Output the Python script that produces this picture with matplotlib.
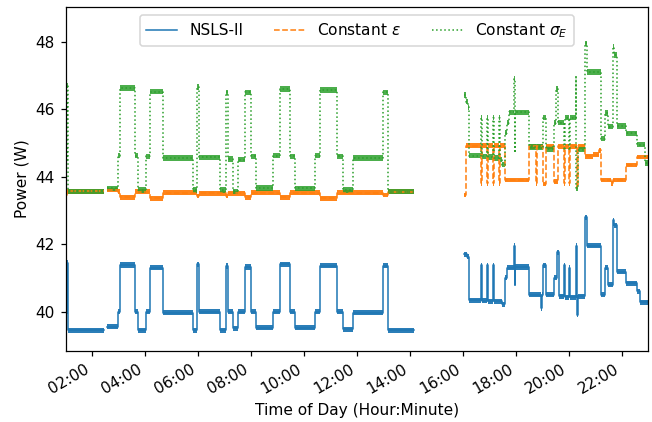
import numpy as np
import pandas as pd
import matplotlib
matplotlib.use("Agg")
import matplotlib.pyplot as plt
import matplotlib.dates as mdates

DAY = "2019-06-01"
nan = np.nan

# Step-wise power levels: each value holds from its time until the next time.
# NaN marks the end of a recorded stretch.
nsls_times = ["01:01", "01:03", "01:05", "02:28", "02:35", "02:58", "03:04", "03:38", "03:44",
              "04:03", "04:12", "04:40", "05:48", "05:58", "06:02", "06:51", "07:04", "07:09",
              "07:19", "07:30", "07:46", "08:01", "08:11", "08:49", "09:05", "09:28", "09:40",
              "10:25", "10:36", "11:14", "11:28", "11:52", "13:00", "13:10", "14:08",
              "16:03", "16:08", "16:14", "16:40", "16:42", "16:55", "16:57", "17:09", "17:11",
              "17:28", "17:36", "17:39", "17:56", "17:57", "17:58", "18:30", "18:57", "18:59",
              "19:00", "19:07", "19:27", "19:33", "19:37", "19:49", "19:51", "20:00", "20:02",
              "20:15", "20:17", "20:20", "20:37", "20:41", "21:12", "21:21", "21:29", "21:39",
              "21:42", "21:48", "22:08", "22:35", "22:40", "22:59"]
nsls_power = [39.95, 41.45, 39.45, nan, 39.55, 40.0, 41.38, 40.0, 39.45,
              40.0, 41.3, 39.97, 39.45, 41.4, 40.0, 39.45, 41.35, 40.0,
              39.5, 40.0, 41.32, 40.0, 39.52, 40.0, 41.4, 40.0, 39.52,
              40.0, 41.36, 40.0, 39.48, 39.97, 41.36, 39.45, nan,
              41.7, 41.62, 40.33, 41.37, 40.32, 41.37, 40.3, 41.37, 40.3,
              40.22, 41.0, 41.3, 41.95, 40.8, 41.32, 40.5, 40.1, 40.5,
              41.37, 40.5, 41.0, 41.75, 40.45, 41.37, 40.42, 41.3, 40.42,
              41.95, 39.9, 40.45, 42.8, 41.95, 40.5, 41.3, 40.8, 42.7,
              42.55, 41.18, 40.84, 40.6, 40.27, nan]

eps_times = ["01:01", "01:04", "02:28", "02:35", "02:58", "03:04", "03:38", "04:12", "04:40",
             "05:58", "06:02", "07:04", "07:09", "07:46", "08:01", "09:05", "09:28", "10:36",
             "11:14", "13:00", "13:10", "14:08",
             "16:03", "16:07", "16:40", "16:42", "16:55", "16:57", "17:09", "17:11", "17:21",
             "17:23", "17:36", "18:30", "18:45", "18:47", "19:00", "19:07", "19:27", "19:36",
             "19:49", "19:51", "20:00", "20:02", "20:19", "20:21", "20:37", "20:55", "21:08",
             "21:12", "21:35", "21:40", "22:08", "22:35", "22:59"]
eps_power = [43.45, 43.56, nan, 43.6, 43.55, 43.38, 43.55, 43.36, 43.52,
             43.42, 43.5, 43.42, 43.5, 43.38, 43.52, 43.38, 43.52, 43.36,
             43.52, 43.45, 43.55, nan,
             43.45, 44.92, 43.8, 44.92, 43.8, 44.92, 43.8, 44.92, 43.8,
             44.92, 43.9, 44.9, 43.8, 44.9, 43.78, 44.9, 43.85, 44.9,
             43.8, 44.9, 43.8, 44.9, 43.7, 44.9, 44.6, 44.65, 44.78,
             43.9, 43.8, 43.9, 44.34, 44.58, nan]

sig_times = ["01:01", "01:03", "01:05", "02:28", "02:35", "02:58", "03:04", "03:38", "03:44",
             "04:03", "04:12", "04:40", "05:48", "05:58", "06:02", "06:51", "07:04", "07:09",
             "07:19", "07:30", "07:46", "08:01", "08:11", "08:49", "09:05", "09:28", "09:40",
             "10:25", "10:36", "11:14", "11:28", "11:52", "13:00", "13:10", "14:08",
             "16:03", "16:07", "16:11", "16:14", "16:40", "16:42", "16:55", "16:57", "17:09",
             "17:11", "17:21", "17:23", "17:28", "17:36", "17:40", "17:45", "17:56", "17:57",
             "17:58", "18:30", "19:00", "19:07", "19:27", "19:31", "19:36", "19:49", "19:51",
             "20:00", "20:02", "20:15", "20:16", "20:21", "20:37", "20:40", "21:12", "21:21",
             "21:29", "21:39", "21:42", "21:48", "22:08", "22:35", "22:52", "22:59"]
sig_power = [44.5, 46.7, 43.56, nan, 43.65, 44.62, 46.62, 44.62, 43.6,
             44.6, 46.52, 44.55, 43.6, 46.65, 44.57, 43.6, 46.5, 44.52,
             43.56, 44.5, 46.5, 44.6, 43.66, 44.62, 46.6, 44.6, 43.65,
             44.62, 46.56, 44.6, 43.6, 44.55, 46.5, 43.55, nan,
             46.42, 46.22, 46.05, 44.62, 45.75, 44.6, 45.75, 44.58, 45.75,
             44.55, 45.75, 44.5, 44.35, 45.3, 45.6, 45.9, 46.9, 44.7,
             45.9, 44.88, 45.75, 44.82, 45.6, 46.6, 45.6, 44.8, 45.75,
             44.8, 45.75, 46.95, 43.65, 44.8, 47.95, 47.1, 45.12, 45.88,
             45.48, 47.85, 47.6, 45.5, 45.28, 44.95, 44.4, nan]

BLUE, ORANGE, GREEN = "#1f77b4", "#ff7f0e", "#2ca02c"
DPI = 111


def to_dt(times):
    return pd.to_datetime([f"{DAY} {t}" for t in times])


def draw_series(ax, times, power, color, ls, label, band, alpha):
    x = to_dt(times)
    y = np.asarray(power, dtype=float)
    ax.plot(x, y, drawstyle="steps-post", color=color, ls=ls, lw=1.0, label=label)
    # thickened plateaus for the measurement spread around each level
    for i in range(len(y) - 1):
        if np.isfinite(y[i]):
            ax.fill_between([x[i], x[i + 1]], y[i] - band, y[i] + band,
                            color=color, lw=0, alpha=alpha)


fig = plt.figure(figsize=(652 / DPI, 422 / DPI), dpi=DPI)
ax = fig.add_subplot(111)
fig.subplots_adjust(left=0.101, right=0.994, top=0.983, bottom=0.169)

draw_series(ax, nsls_times, nsls_power, BLUE, "-", "NSLS-II", 0.075, 0.95)
draw_series(ax, eps_times, eps_power, ORANGE, "--", r"Constant $\epsilon$", 0.07, 0.95)
draw_series(ax, sig_times, sig_power, GREEN, ":", r"Constant $\sigma_E$", 0.08, 0.85)

ax.set_xlim(pd.Timestamp(f"{DAY} 01:01"), pd.Timestamp(f"{DAY} 22:59"))
ax.set_ylim(38.84, 49.02)
ax.set_yticks([40, 42, 44, 46, 48])
ax.xaxis.set_major_locator(mdates.HourLocator(byhour=range(0, 24, 2)))
ax.xaxis.set_major_formatter(mdates.DateFormatter("%H:%M"))
plt.setp(ax.get_xticklabels(), rotation=30, ha="right")

ax.set_xlabel("Time of Day (Hour:Minute)")
ax.set_ylabel("Power (W)")
ax.legend(loc="upper center", ncol=3)

fig.savefig("out.png", dpi=DPI)
